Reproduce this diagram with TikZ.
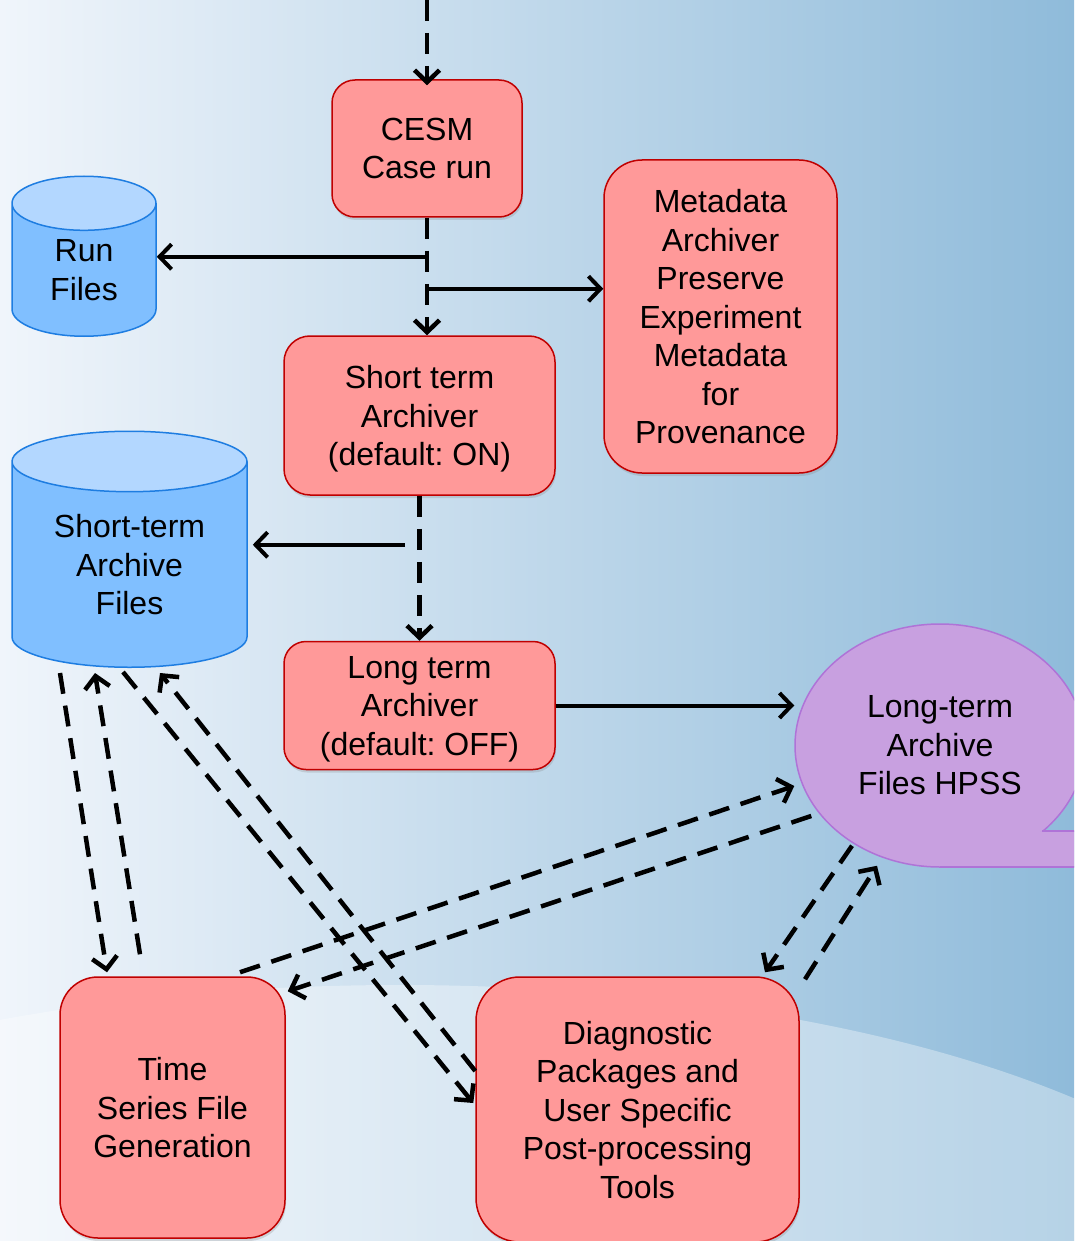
\documentclass[tikz,border=0pt]{standalone}
\usepackage{fontspec}
\setmainfont{Liberation Sans}
\usetikzlibrary{arrows.meta, positioning, shapes.geometric, calc, shadows}

\definecolor{boxfill}{RGB}{255,153,153}
\definecolor{boxline}{RGB}{192,0,0}
\definecolor{storebody}{RGB}{128,191,255}
\definecolor{storetop}{RGB}{179,215,255}
\definecolor{storeline}{RGB}{30,125,225}
\definecolor{hpssfill}{RGB}{200,160,224}
\definecolor{hpssline}{RGB}{175,115,215}
\definecolor{bgleft}{RGB}{240,245,251}
\definecolor{bgmid}{RGB}{218,232,243}
\definecolor{bgright}{RGB}{143,187,218}

\begin{document}
\frenchspacing
\begin{tikzpicture}[
    x=1pt, y=-1pt,
    every node/.style={font=\fontsize{32}{38.5}\selectfont, align=center, inner sep=0pt},
    procbox/.style={rectangle, rounded corners=#1, draw=boxline, line width=1.5pt, fill=boxfill, text depth=0pt,
        drop shadow={shadow xshift=1pt, shadow yshift=-3pt, opacity=0.25}},
    procbox/.default=25pt,
    storebox/.style={cylinder, shape border rotate=90, draw=storeline, line width=1.5pt,
        cylinder uses custom fill, cylinder body fill=storebody, cylinder end fill=storetop},
    flow/.style={-{Straight Barb[length=12pt, width=25pt]}, line width=4.5pt, dash pattern=on 21pt off 12pt},
    push/.style={-{Straight Barb[length=12pt, width=25pt]}, line width=4pt}
]
\useasboundingbox (0,0) rectangle (1074,1241);
\clip (0,0) rectangle (1074,1241);

% background
\shade[left color=bgleft, middle color=bgmid, right color=bgright] (0,0) rectangle (1074,1241);
\fill[white, opacity=0.35] (400,1321) ellipse [x radius=900, y radius=336];

\node[procbox=23pt, minimum width=190pt, minimum height=137pt] (cesm) at (427,148.5) {CESM\\Case run};
\node[procbox=38pt, minimum width=233pt, minimum height=313pt] (meta) at (720.5,316.5)
    {Metadata\\Archiver\\Preserve\\Experiment\\Metadata\\for\\Provenance};
\node[procbox=26pt, minimum width=271pt, minimum height=159pt] (short) at (419.5,415.5)
    {Short term\\Archiver\\(default: ON)};
\node[procbox=22pt, minimum width=271pt, minimum height=128pt, below=145pt of short] (long)
    {Long term\\Archiver\\(default: OFF)};
\node[procbox=38pt, minimum width=225pt, minimum height=261pt] (tseries) at (172.5,1107.5)
    {Time\\Series File\\Generation};
\node[procbox=44pt, minimum width=323pt, minimum height=265pt] (diag) at (637.5,1109.5)
    {Diagnostic\\Packages and\\User Specific\\Post-processing\\Tools};

\node[storebox, minimum width=144pt, minimum height=160pt, aspect=0.8, anchor=south] (runfiles) at (84,337) {Run\\Files};
\node[storebox, minimum width=235pt, minimum height=236pt, aspect=0.4, anchor=south] (stfiles) at (129.5,668)
    {Short-term\\Archive\\Files};

% long-term store with its tail
\node[ellipse, draw=hpssline, fill=hpssfill, line width=1.5pt, minimum width=290pt, minimum height=243pt]
    (hpss) at (940,745.5) {Long-term\\Archive\\Files HPSS};
\fill[hpssfill] (1042,831) -- (1090,831) -- (1090,867) -- (940,867) -- cycle;
\draw[hpssline, line width=1.5pt] (1042,831) -- (1090,831) (940,867.2) -- (1090,867.2);

\coordinate (entry) at (427,0);
\coordinate (tap1) at ($(cesm.south)+(0,39)$);
\coordinate (tap2) at ($(cesm.south)+(0,71)$);
\coordinate (tap3) at ($(short.south)+(-14.5,49)$);

% main flow
\draw[flow] (entry) -- ($(cesm.north)+(0,6)$);
\draw[flow] (cesm.south) -- (cesm.south |- short.north);
\draw[flow] (short.south) -- (long.north);
\draw[push] (tap1) -- (runfiles.east |- tap1);
\draw[push] (tap2) -- (meta.west |- tap2);
\draw[push, shorten >=5pt] (tap3) -- (stfiles.east |- tap3);
\draw[push] (long.east) -- (hpss.west |- long.east);

% post-processing
\draw[flow] ($(stfiles.south)+(-69.5,5)$) -- ($(tseries.north)+(-65.5,-4)$);
\draw[flow] ($(tseries.north)+(-32.5,-22)$) -- ($(stfiles.south)+(-34.5,5)$);
\draw[flow] ($(stfiles.south)+(-6.5,4)$) -- ($(diag.west)+(-2,-6.5)$);
\draw[flow] ($(diag.west)+(0,-38.5)$) -- ($(stfiles.south)+(30.5,5)$);
\draw[flow] ($(tseries.north)+(67.5,-4)$) -- ($(hpss.west)+(0,40.5)$);
\draw[flow] ($(hpss.west)+(17,70.5)$) -- ($(tseries.north east)+(2,15)$);
\draw[flow] ($(hpss.south)+(-88,-22)$) -- ($(diag.north)+(127.5,-4)$);
\draw[flow] ($(diag.north)+(167.5,3)$) -- ($(hpss.south)+(-63,-2)$);

\end{tikzpicture}
\end{document}
